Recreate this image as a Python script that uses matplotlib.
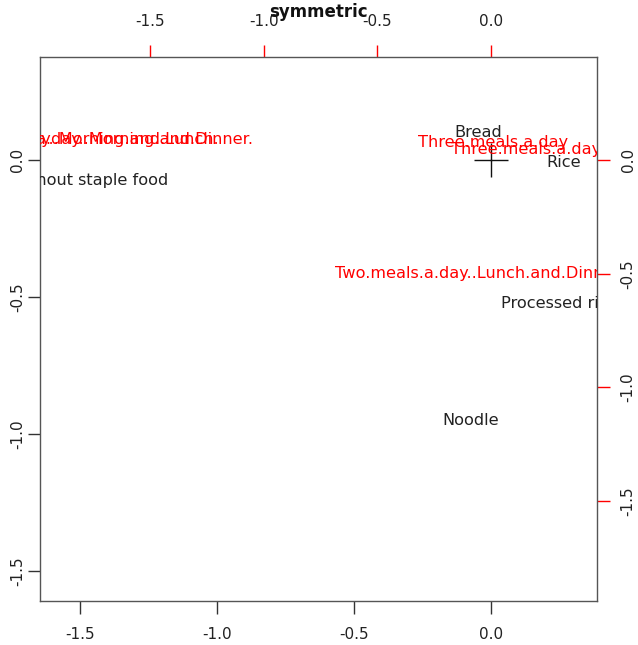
import matplotlib
matplotlib.use("Agg")
import matplotlib.pyplot as plt
import matplotlib.transforms as mtransforms

# Row points (black) - principal coordinates (bottom/left scale)
row_names = ["Bread", "Rice", "Processed rice", "Noodle", "Without staple food"]
row_x = [-0.047, 0.265, 0.250, -0.073, -1.468]
row_y = [0.100, -0.010, -0.523, -0.952, -0.075]

# Column points (red) - top/right scale
col_names = ["Three.meals.a.day",
             "Three.meals.a.day.and.snacks",
             "Two.meals.a.day..Lunch.and.Dinner.",
             "Two.meals.a.day..Morning.and.Dinner.",
             "Two.meals.a.day..Morning.and.Lunch."]
col_x = [0.008, 0.362, -0.050, -1.72, -1.86]
col_y = [0.078, 0.045, -0.500, 0.092, 0.092]

ticks = [-1.5, -1.0, -0.5, 0.0]
tick_labels = ["-1.5", "-1.0", "-0.5", "0.0"]
k = 1.2055  # ratio between secondary and primary scale

fig = plt.figure(figsize=(6.38, 6.45), dpi=100)
ax = fig.add_axes([40/638, 1-601/645, 557/638, 544/645])
ax.set_xlim(-1.646, 0.387)
ax.set_ylim(-1.609, 0.376)

for s in ax.spines.values():
    s.set_color("#555555")
    s.set_linewidth(1.0)

ax.set_xticks(ticks)
ax.set_xticklabels(tick_labels)
ax.set_yticks(ticks)
ax.set_yticklabels(tick_labels, rotation=90, va="center")
ax.tick_params(axis="x", length=9, width=1, color="#333333",
               labelsize=11, labelcolor="#222222", pad=10)
ax.tick_params(axis="y", length=9, width=1, color="#333333",
               labelsize=11, labelcolor="#222222", pad=1.5)

sec_x = ax.secondary_xaxis("top", functions=(lambda v: v * k, lambda v: v / k))
sec_x.set_xticks(ticks)
sec_x.set_xticklabels(tick_labels)
sec_x.tick_params(length=9, width=1, color="red", labelsize=11, labelcolor="#222222", pad=11)
sec_x.spines["top"].set_visible(False)

sec_y = ax.secondary_yaxis("right", functions=(lambda v: v * k, lambda v: v / k))
sec_y.set_yticks(ticks)
sec_y.set_yticklabels(tick_labels, rotation=90, va="center")
sec_y.tick_params(length=9, width=1, color="red", labelsize=11, labelcolor="#222222", pad=8)
sec_y.spines["right"].set_visible(False)

# origin cross
ax.plot([0], [0], marker="+", markersize=25, markeredgewidth=1.0, color="#111111", linestyle="none")

for n, x, y in zip(row_names, row_x, row_y):
    ax.text(x, y, n, ha="center", va="center", fontsize=11.6, color="#222222", clip_on=True)

col_tr = mtransforms.Affine2D().scale(1 / k) + ax.transData
for n, x, y in zip(col_names, col_x, col_y):
    ax.text(x, y, n, transform=col_tr, ha="center", va="center", fontsize=11.6,
            color="red", clip_on=True)

fig.text((40 + 597) / 2 / 638, 1 - 12 / 645, "symmetric", ha="center", va="center",
         fontsize=12, fontweight="bold", color="#111111")

fig.savefig("out.png", dpi=100)
